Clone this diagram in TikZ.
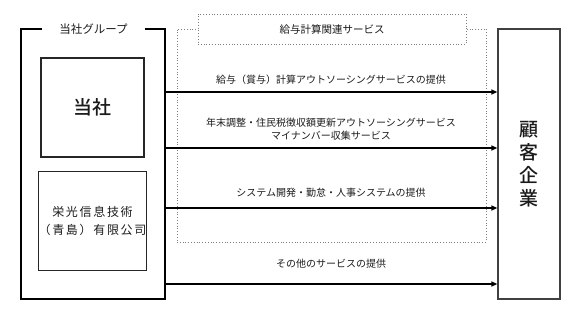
\documentclass[tikz,border=0pt]{standalone}
\usepackage{fontspec}
\setmainfont{Noto Sans CJK JP}
\newfontfamily\jpls[LetterSpace=14]{Noto Sans CJK JP}
\newfontfamily\jpmed{Noto Sans CJK JP Medium}
\usetikzlibrary{arrows.meta}
\definecolor{dotgray}{HTML}{808080}
\definecolor{txt}{HTML}{1A1A1A}
\tikzset{
  grpbox/.style={draw=black, line width=1.8pt, minimum width=144pt, minimum height=270pt, inner sep=0pt},
  cobox/.style={draw=black!85, line width=1.3pt, minimum width=103pt, minimum height=99pt, inner sep=0pt, align=center, text=txt},
  custbox/.style={draw=black!75, line width=1.3pt, minimum width=62pt, minimum height=270pt, inner sep=0pt, align=center, text=txt},
  dotbox/.style={draw=dotgray, dotted, line width=0.8pt, inner sep=0pt},
  svc/.style={font=\fontsize{10}{13}\selectfont, text=txt, align=center, inner sep=0pt},
  arr/.style={draw=black, line width=1.8pt, -{Triangle[length=6pt,width=5pt]}},
}
\begin{document}
\begin{tikzpicture}[x=1pt,y=-1pt]
\useasboundingbox (0,0) rectangle (581,327);
% dotted service region
\node[dotbox, minimum width=309pt, minimum height=213pt] (region) at (331.5,135.5) {};
\node[dotbox, fill=white, minimum width=268pt, minimum height=30pt, font=\fontsize{10.5}{12}\selectfont, text=txt] (rlabel) at (332,29) {給与計算関連サービス};
% group box
\node[grpbox] (group) at (93,164) {};
\node[fill=white, minimum width=103pt, minimum height=12pt, inner sep=0pt, font=\fontsize{11.5}{12}\selectfont, text=txt] (glabel) at (93.5,29) {当社グループ};
% companies
\node[cobox, font=\jpmed\fontsize{19}{22}\selectfont] (tousha) at (92.5,107.5) {当社};
\node[cobox, font=\jpls\fontsize{12}{18}\selectfont] (eiko) at (92.5,221) {栄光信息技術\\（青島）有限公司};
% customer
\node[custbox, font=\jpmed\fontsize{19}{23}\selectfont] (cust) at (529,164) {顧\\客\\企\\業};
% arrows
\draw[arr] (group.east |- 0,92) -- (cust.west |- 0,92);
\draw[arr] (group.east |- 0,148) -- (cust.west |- 0,148);
\draw[arr] (group.east |- 0,208) -- (cust.west |- 0,208);
\draw[arr] (group.east |- 0,284) -- (cust.west |- 0,284);
% labels
\node[svc] (s1) at (331,80) {給与（賞与）計算アウトソーシングサービスの提供};
\node[svc] (s2) at (331,129) {年末調整・住民税徴収額更新アウトソーシングサービス\\マイナンバー収集サービス};
\node[svc] (s3) at (331,193) {システム開発・勤怠・人事システムの提供};
\node[svc] (s4) at (331,264) {その他のサービスの提供};
\end{tikzpicture}
\end{document}
